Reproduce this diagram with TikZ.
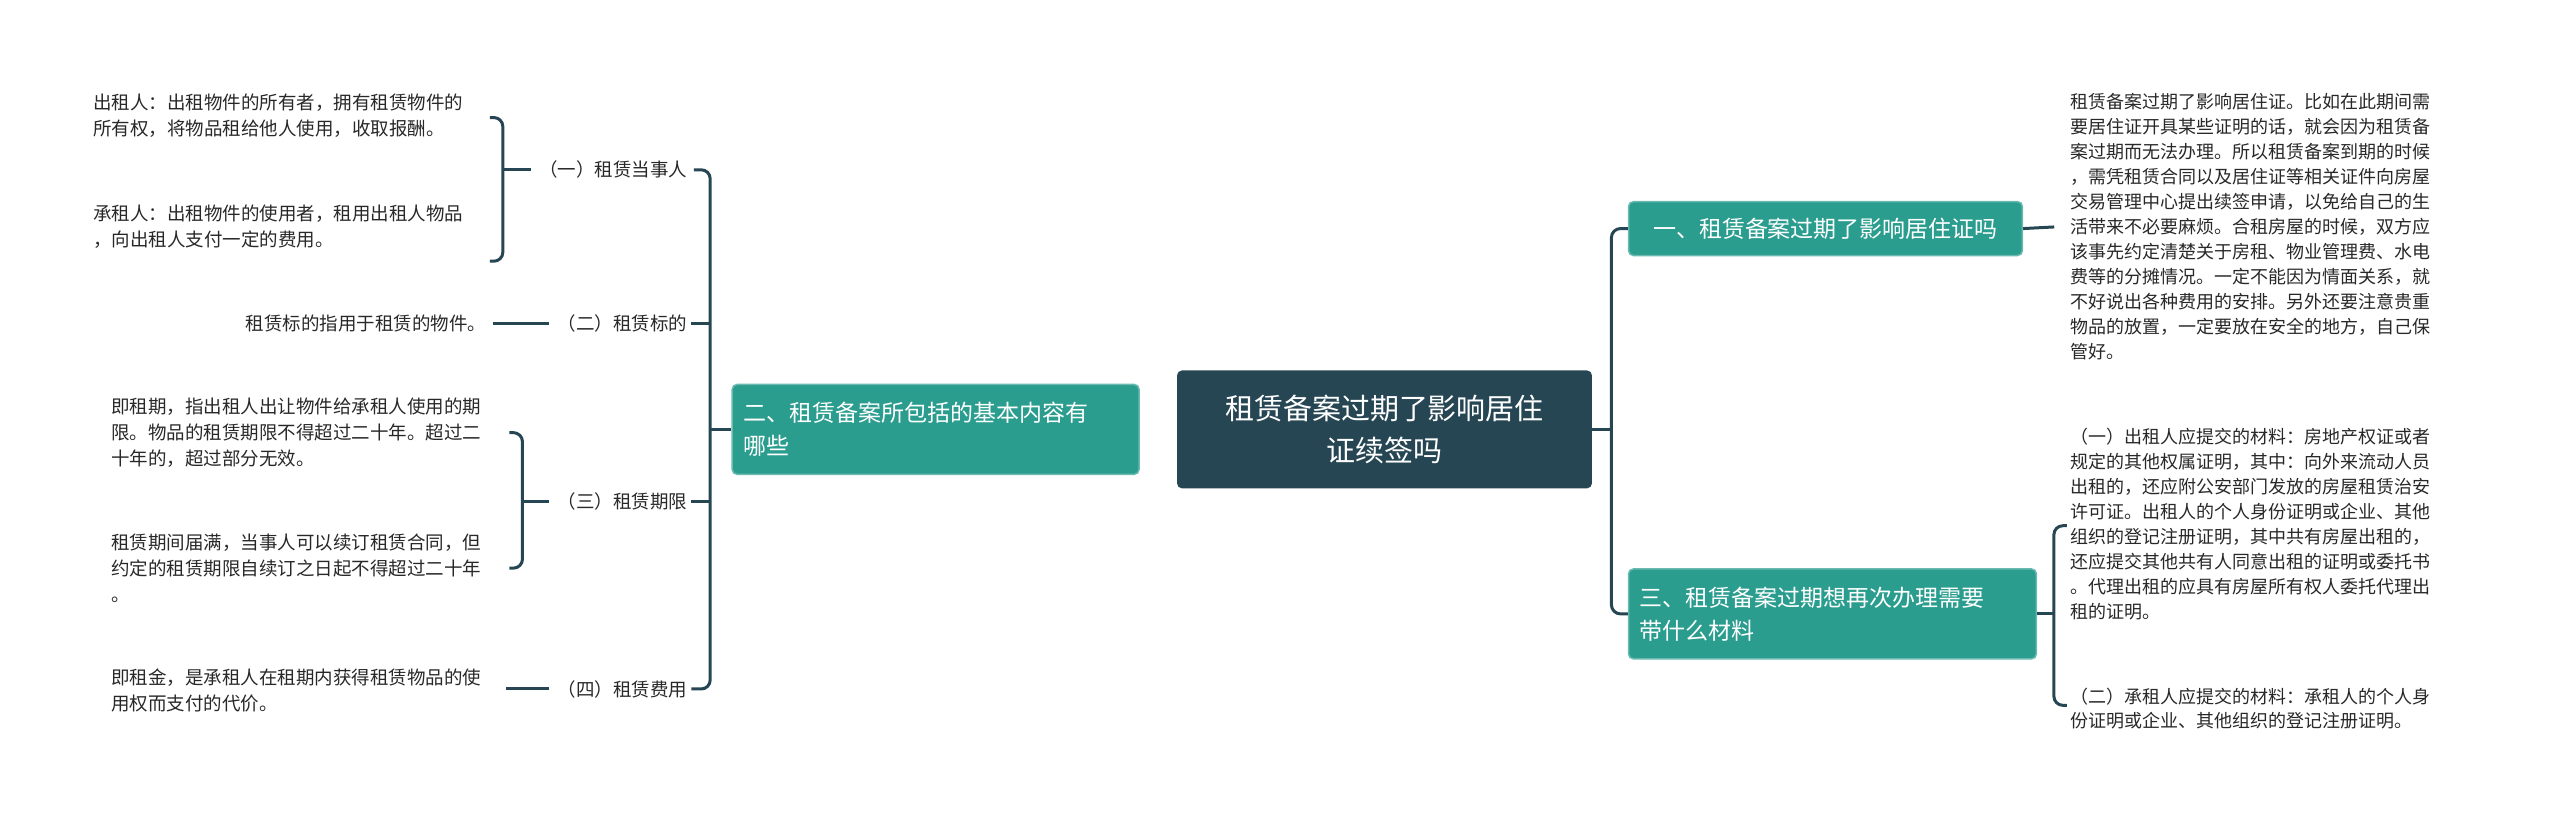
\documentclass[tikz,border=0pt]{standalone}
\usepackage{fontspec}
\setmainfont{Noto Sans CJK SC}
\definecolor{teal}{RGB}{42,157,143}
\definecolor{dark}{RGB}{38,70,83}
\definecolor{txt}{RGB}{40,40,40}
\begin{document}
\begin{tikzpicture}[x=1.633pt,y=-1.633pt,
  leaf/.style={inner sep=0pt,align=left,text=txt,font=\fontsize{18.5pt}{26pt}\selectfont},
  rleaf/.style={inner sep=0pt,align=left,text=txt,font=\fontsize{18pt}{25pt}\selectfont},
  lab/.style={inner sep=0pt,text=txt,font=\fontsize{18.5pt}{26pt}\selectfont},
  branch/.style={fill=teal,draw=teal!70!white,line width=1.5pt,rounded corners=5pt,text=white,align=left,inner xsep=10pt,font=\fontsize{23pt}{33pt}\selectfont},
  conn/.style={draw=dark,line width=3pt,rounded corners=9pt}]
\useasboundingbox (0,0) rectangle (1568,505);
\node[fill=dark,rounded corners=5pt,text=white,align=center,minimum width=415pt,minimum height=118pt,font=\fontsize{29pt}{42pt}\selectfont] (c) at (848,263) {租赁备案过期了影响居住\\证续签吗};
\node[branch,anchor=west,minimum width=407pt,minimum height=90pt,text width=385pt] (b2) at (448,263) {二、租赁备案所包括的基本内容有\\哪些};
\node[branch,anchor=west,minimum width=394pt,minimum height=54pt] (b1) at (997,140) {一、租赁备案过期了影响居住证吗};
\node[branch,anchor=west,minimum width=408pt,minimum height=90pt,text width=386pt] (b3) at (997,376) {三、租赁备案过期想再次办理需要\\带什么材料};
% left labels
\node[lab,anchor=east] (l1) at (421,104) {（一）租赁当事人};
\node[lab,anchor=east] (l2) at (421,198) {（二）租赁标的};
\node[lab,anchor=east] (l3) at (421,307) {（三）租赁期限};
\node[lab,anchor=east] (l4) at (421,422) {（四）租赁费用};
% left leaves
\node[leaf,anchor=west] (t1a) at (57,71) {出租人：出租物件的所有者，拥有租赁物件的\\所有权，将物品租给他人使用，收取报酬。};
\node[leaf,anchor=west] (t1b) at (57,139) {承租人：出租物件的使用者，租用出租人物品\\，向出租人支付一定的费用。};
\node[leaf,anchor=east] (t2) at (298,198) {租赁标的指用于租赁的物件。};
\node[leaf,anchor=west] (t3a) at (68,265) {即租期，指出租人出让物件给承租人使用的期\\限。物品的租赁期限不得超过二十年。超过二\\十年的，超过部分无效。};
\node[leaf,anchor=west] (t3b) at (68,348) {租赁期间届满，当事人可以续订租赁合同，但\\约定的租赁期限自续订之日起不得超过二十年\\。};
\node[leaf,anchor=west] (t4) at (68,423) {即租金，是承租人在租期内获得租赁物品的使\\用权而支付的代价。};
% right leaves
\node[rleaf,anchor=west] (r1) at (1268,139) {租赁备案过期了影响居住证。比如在此期间需\\要居住证开具某些证明的话，就会因为租赁备\\案过期而无法办理。所以租赁备案到期的时候\\，需凭租赁合同以及居住证等相关证件向房屋\\交易管理中心提出续签申请，以免给自己的生\\活带来不必要麻烦。合租房屋的时候，双方应\\该事先约定清楚关于房租、物业管理费、水电\\费等的分摊情况。一定不能因为情面关系，就\\不好说出各种费用的安排。另外还要注意贵重\\物品的放置，一定要放在安全的地方，自己保\\管好。};
\node[rleaf,anchor=west] (r3a) at (1268,321) {（一）出租人应提交的材料：房地产权证或者\\规定的其他权属证明，其中：向外来流动人员\\出租的，还应附公安部门发放的房屋租赁治安\\许可证。出租人的个人身份证明或企业、其他\\组织的登记注册证明，其中共有房屋出租的，\\还应提交其他共有人同意出租的证明或委托书\\。代理出租的应具有房屋所有权人委托代理出\\租的证明。};
\node[rleaf,anchor=west] (r3b) at (1268,434) {（二）承租人应提交的材料：承租人的个人身\\份证明或企业、其他组织的登记注册证明。};
% coordinates
\coordinate (lvtop) at (435,104); \coordinate (lvbot) at (435,422);
\coordinate (rvtop) at (987,140); \coordinate (rvbot) at (987,376);
% left connectors
\draw[conn] (l1.east) ++(4,0) -- (lvtop) -- (lvbot) -- ([xshift=4pt]l4.east);
\draw[conn] ([xshift=4pt]l2.east) -- (435,198);
\draw[conn] ([xshift=4pt]l3.east) -- (435,307);
\draw[conn] (b2.west) -- (435,263);
\draw[conn] (300,72) -- (308,72) -- (308,160) -- (300,160);
\draw[conn] (308,104) -- ([xshift=-8pt]l1.west);
\draw[conn] ([xshift=6pt]t2.east) -- ([xshift=-8pt]l2.west);
\draw[conn] (312,265) -- (320,265) -- (320,348) -- (312,348);
\draw[conn] (320,307) -- ([xshift=-8pt]l3.west);
\draw[conn] (310,422) -- ([xshift=-8pt]l4.west);
% right connectors
\draw[conn] (c.east) -- (987,263);
\draw[conn] (b1.west) -- (rvtop) -- (rvbot) -- (b3.west);
\draw[conn] (b1.east) -- ([xshift=-16pt]r1.west);
\draw[conn] (b3.east) -- (1258,376);
\draw[conn] (1266,322) -- (1258,322) -- (1258,432) -- (1266,432);
\end{tikzpicture}
\end{document}
